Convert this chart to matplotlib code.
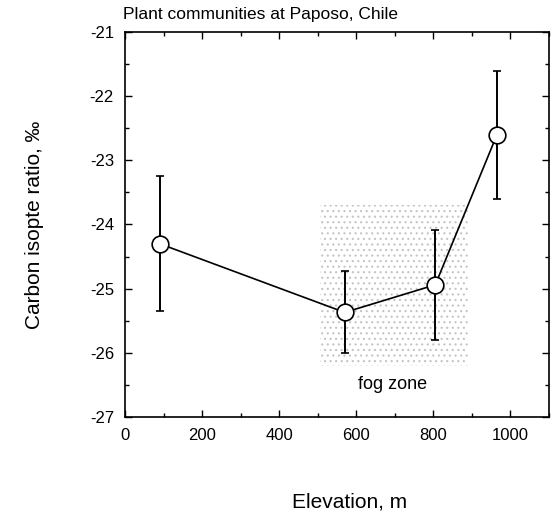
import numpy as np
import matplotlib.pyplot as plt
from matplotlib.patches import Rectangle
from matplotlib.ticker import MultipleLocator

plt.rcParams['font.family'] = ['Liberation Sans', 'DejaVu Sans']
plt.rcParams['axes.unicode_minus'] = False
plt.rcParams['hatch.linewidth'] = 0.8

elev = [90, 570, 805, 965]
ratio = [-24.3, -25.37, -24.94, -22.6]
err = [1.05, 0.64, 0.86, 1.0]

fog_x = [505, 890]
fog_y = [-26.2, -23.7]

fig = plt.figure(figsize=(5.57, 5.16), dpi=100)
ax = fig.add_axes([125/557, 1 - 417/516, 424/557, 385/516])

ax.add_patch(Rectangle((fog_x[0], fog_y[0]), fog_x[1] - fog_x[0], fog_y[1] - fog_y[0],
                       facecolor='none', edgecolor='#c4c4c4', hatch='...', lw=0, zorder=0))
ax.text(695, -26.5, 'fog zone', ha='center', va='center', fontsize=13)

ax.errorbar(elev, ratio, yerr=err, fmt='-o', color='black', lw=1.2, elinewidth=1.4,
            capsize=3, capthick=1.4, ms=12, mfc='white', mec='black', mew=1.2)

ax.set_xlim(0, 1100)
ax.set_ylim(-27, -21)
ax.xaxis.set_major_locator(MultipleLocator(200))
ax.xaxis.set_minor_locator(MultipleLocator(100))
ax.yaxis.set_major_locator(MultipleLocator(1))
ax.yaxis.set_minor_locator(MultipleLocator(0.5))
ax.set_xticks([0, 200, 400, 600, 800, 1000])
ax.tick_params(which='both', direction='in', top=True, right=True, labelsize=12)
ax.tick_params(which='major', length=5, width=1, pad=8)
ax.tick_params(which='minor', length=3, width=1)
for s in ax.spines.values():
    s.set_linewidth(1.2)

fig.text(123/557, 1 - 15/516, 'Plant communities at Paposo, Chile', ha='left', va='center', fontsize=12.5)
fig.text(350/557, 1 - 502/516, 'Elevation, m', ha='center', va='center', fontsize=15)
fig.text(35/557, 1 - 225/516, 'Carbon isopte ratio, ‰', ha='center', va='center',
         rotation=90, fontsize=15)

fig.savefig('out.png', dpi=100)
